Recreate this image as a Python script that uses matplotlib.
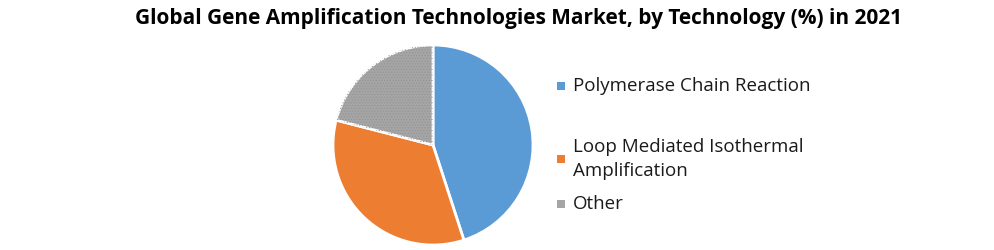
import matplotlib.pyplot as plt
from matplotlib.patches import Rectangle

TITLE = "Global Gene Amplification Technologies Market, by Technology (%) in 2021"
LABELS = ["Polymerase Chain Reaction", "Loop Mediated Isothermal\nAmplification", "Other"]
SHARES = [45, 34, 21]
COLORS = ["#5B9BD5", "#ED7D31", "#A5A5A5"]

plt.rcParams['font.family'] = ['Open Sans', 'DejaVu Sans']
plt.rcParams['hatch.linewidth'] = 0.5

fig = plt.figure(figsize=(9.94, 2.5), dpi=100)
fig.patch.set_facecolor("white")

# pie centred at (433, 145) px, radius ~101 px
ax = fig.add_axes([332 / 994, (250 - 246) / 250, 202 / 994, 202 / 250])
wedges, _ = ax.pie(SHARES, colors=COLORS, startangle=90, counterclock=False,
                   wedgeprops=dict(edgecolor="white", linewidth=2))
# dotted texture on the grey slice
over, _ = ax.pie(SHARES, colors=["none"] * 3, startangle=90, counterclock=False,
                 wedgeprops=dict(edgecolor="none", linewidth=0))
over[2].set_hatch("......")
over[2]._hatch_color = (0.58, 0.58, 0.58, 1)
ax.set_xlim(-1.01, 1.01)
ax.set_ylim(-1.01, 1.01)
ax.set_aspect("equal")

fig.text(0.522, 0.925, TITLE, ha="center", va="center", fontsize=15,
         fontweight="bold", color="black")

# legend, placed by hand like the original
rows_y = [86, 159, 204]
for w, lab, y in zip(wedges, LABELS, rows_y):
    top = 250 - y
    fig.patches.append(Rectangle((557 / 994, (top - 4) / 250), 8 / 994, 8 / 250,
                                 facecolor=w.get_facecolor(), edgecolor="none",
                                 transform=fig.transFigure, figure=fig))
    fig.text(573 / 994, top / 250, lab, ha="left", va="center", fontsize=13.5,
             color="#1a1a1a", linespacing=1.45)

fig.savefig("out.png", dpi=100)
